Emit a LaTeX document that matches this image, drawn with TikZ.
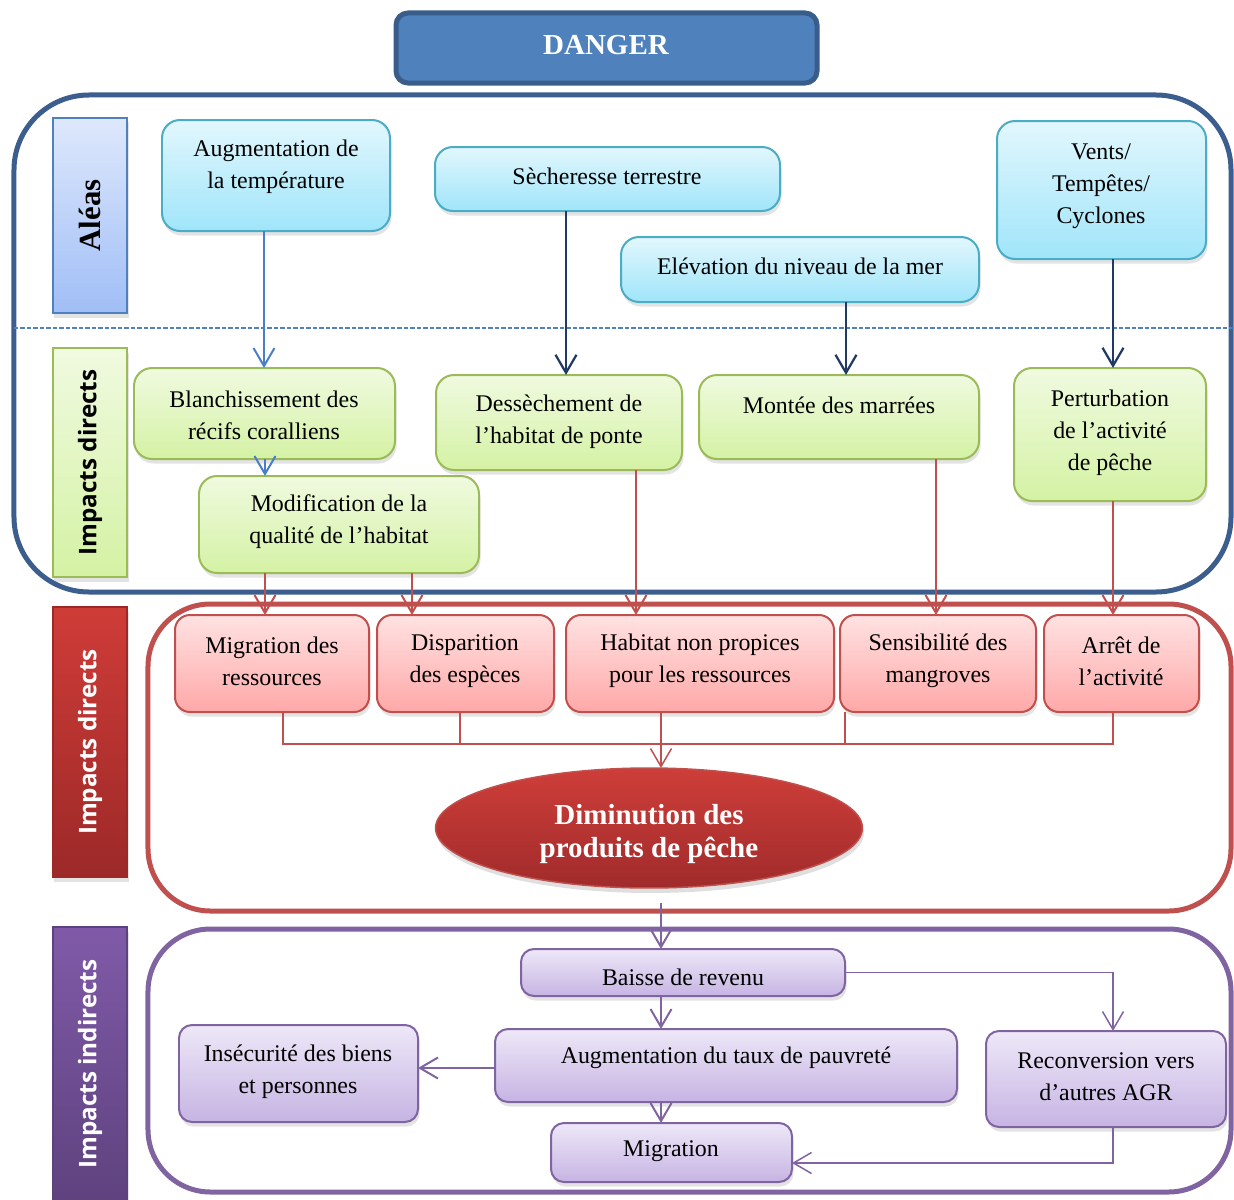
\documentclass[tikz,border=0pt]{standalone}
\usepackage{fontspec}
\setmainfont{Liberation Serif}
\newfontfamily\labfont{Open Sans}
\usetikzlibrary{arrows.meta,shadows,shapes.geometric}

\definecolor{dangerFill}{RGB}{79,129,189}
\definecolor{dangerLine}{RGB}{56,93,138}
\definecolor{blueFrame}{RGB}{60,94,142}
\definecolor{dashBlue}{RGB}{79,129,189}
\definecolor{aleaTop}{RGB}{226,247,253}
\definecolor{aleaBot}{RGB}{160,229,250}
\definecolor{aleaLine}{RGB}{75,172,198}
\definecolor{aleaLabTop}{RGB}{222,232,252}
\definecolor{aleaLabBot}{RGB}{160,190,246}
\definecolor{aleaLabLine}{RGB}{79,129,189}
\definecolor{grTop}{RGB}{240,250,224}
\definecolor{grBot}{RGB}{212,242,164}
\definecolor{grLine}{RGB}{155,187,89}
\definecolor{redLabTop}{RGB}{207,60,56}
\definecolor{redLabBot}{RGB}{156,41,40}
\definecolor{redLine}{RGB}{192,80,77}
\definecolor{rdTop}{RGB}{255,226,226}
\definecolor{rdBot}{RGB}{255,168,168}
\definecolor{ellTop}{RGB}{206,62,57}
\definecolor{ellBot}{RGB}{160,43,43}
\definecolor{purLabTop}{RGB}{128,90,168}
\definecolor{purLabBot}{RGB}{94,66,126}
\definecolor{purLine}{RGB}{128,100,162}
\definecolor{puTop}{RGB}{238,232,248}
\definecolor{puBot}{RGB}{198,180,227}
\definecolor{lightArrow}{RGB}{74,126,200}
\definecolor{navyArrow}{RGB}{33,58,100}

% box node given by its corners (x1,y1)-(x2,y2) in picture units
\newcommand{\cbox}[6]{%
  \pgfmathsetmacro{\cbw}{(#5-#3)*0.02}%
  \pgfmathsetmacro{\cbh}{(#6-#4)*0.02}%
  \node[#2, minimum width=\cbw cm, minimum height=\cbh cm] (#1) at ({(#3+#5)/2},{(#4+#6)/2}) {};%
}

\begin{document}
\begin{tikzpicture}[x=0.02cm,y=-0.02cm,
  every node/.style={inner sep=0pt, outer sep=0pt},
  softshadow/.style={drop shadow={shadow xshift=0.03cm, shadow yshift=-0.09cm, opacity=0.22}},
  frameBox/.style={draw, line width=0.1cm, rounded corners=1.5cm},
  labBox/.style={rectangle, line width=0.04cm, softshadow},
  aleaNode/.style={draw=aleaLine, line width=0.04cm, rounded corners=0.36cm, top color=aleaTop, bottom color=aleaBot, softshadow},
  greenNode/.style={draw=grLine, line width=0.04cm, rounded corners=0.36cm, top color=grTop, bottom color=grBot, softshadow},
  redNode/.style={draw=redLine, line width=0.04cm, rounded corners=0.3cm, top color=rdTop, bottom color=rdBot, softshadow},
  purNode/.style={draw=purLine, line width=0.04cm, rounded corners=0.26cm, top color=puTop, bottom color=puBot, softshadow},
  txt/.style={align=center, font=\fontsize{13.6}{18.1}\selectfont},
  labtxt/.style={rotate=90, font=\labfont\bfseries\fontsize{13.8}{14}\selectfont},
  tip/.style={-{Straight Barb[length=0.36cm,width=0.42cm]}},
  arrLB/.style={tip, draw=lightArrow, line width=0.04cm},
  arrNV/.style={tip, draw=navyArrow, line width=0.045cm},
  arrR/.style={tip, draw=redLine, line width=0.04cm},
  arrP/.style={tip, draw=purLine, line width=0.04cm},
  busR/.style={draw=redLine, line width=0.03cm},
]
\useasboundingbox (0,0) rectangle (1234,1200);

% ---- x positions of the vertical connectors ----
\coordinate (xa) at (264,0);
\coordinate (xb) at (566,0);
\coordinate (xc) at (846,0);
\coordinate (xd) at (1113,0);
\coordinate (xe) at (265,0);
\coordinate (xf) at (412,0);
\coordinate (xg) at (636,0);
\coordinate (xh) at (936,0);
\coordinate (m1) at (283,0);
\coordinate (m2) at (460,0);
\coordinate (m3) at (661,0);
\coordinate (m4) at (845,0);
\coordinate (bus) at (0,744);
\coordinate (back) at (0,1163);
\coordinate (pstart) at (661,903);

% ---- frames ----
\cbox{frA}{frameBox, draw=blueFrame}{14}{95}{1231}{592}
\cbox{frB}{frameBox, draw=redLine, rounded corners=1.25cm}{148}{604}{1231}{911}
\cbox{frC}{frameBox, draw=purLine, rounded corners=1.25cm}{148}{929}{1231}{1192}
\draw[dashBlue, line width=0.03cm, dash pattern=on 0.09cm off 0.04cm] (frA.west |- 0,328) -- (1234,328);

% ---- title ----
\cbox{danger}{draw=dangerLine, line width=0.1cm, fill=dangerFill, rounded corners=0.24cm}{396}{13}{817}{83}
\node[text=white, font=\bfseries\fontsize{16.5}{18}\selectfont] (danger-t) at (606,45) {DANGER};

% ---- row labels ----
\cbox{labA}{labBox, draw=aleaLabLine, top color=aleaLabTop, bottom color=aleaLabBot}{53}{118}{127}{313}
\node[rotate=90, font=\bfseries\fontsize{17.5}{18}\selectfont] (labA-t) at (labA.center) {Aléas};
\cbox{labB}{labBox, draw=grLine, top color=grTop, bottom color=grBot}{53}{348}{127}{577}
\node[labtxt] (labB-t) at (labB.center) {Impacts directs};
\cbox{labC}{labBox, draw=redLabBot, top color=redLabTop, bottom color=redLabBot}{53}{607}{127}{877}
\node[labtxt, text=white] (labC-t) at (labC.center) {Impacts directs};
\cbox{labD}{labBox, draw=purLabBot, top color=purLabTop, bottom color=purLabBot}{53}{927}{127}{1203}
\node[labtxt, text=white] (labD-t) at (90,1064) {Impacts indirects};

% ---- hazards ----
\cbox{aug}{aleaNode}{162}{120}{390}{231}
\node[txt] (aug-t) at (276,167) {Augmentation de\\la température};
\cbox{sech}{aleaNode}{435}{147}{780}{211}
\node[txt] (sech-t) at (607,176) {Sècheresse terrestre};
\cbox{elev}{aleaNode}{621}{237}{979}{302}
\node[txt] (elev-t) at (800,266) {Elévation du niveau de la mer};
\cbox{vents}{aleaNode}{997}{121}{1206}{259}
\node[txt] (vents-t) at (1101,186) {Vents/\\Tempêtes/\\Cyclones};

% ---- direct impacts (habitat) ----
\cbox{blanch}{greenNode}{134}{368}{395}{459}
\node[txt] (blanch-t) at (264,415) {Blanchissement des\\récifs coralliens};
\cbox{modif}{greenNode}{199}{476}{479}{573}
\node[txt] (modif-t) at (339,522) {Modification de la\\qualité de l’habitat};
\cbox{dess}{greenNode}{436}{375}{682}{470}
\node[txt] (dess-t) at (559,422) {Dessèchement de\\l’habitat de ponte};
\cbox{montee}{greenNode}{699}{375}{979}{459}
\node[txt] (montee-t) at (839,405) {Montée des marrées};
\cbox{pert}{greenNode}{1014}{368}{1206}{501}
\node[txt] (pert-t) at (1110,433) {Perturbation\\de l’activité\\de pêche};

% ---- direct impacts (resources) ----
\cbox{mig}{redNode}{175}{615}{369}{712}
\node[txt] (mig-t) at (272,661) {Migration des\\ressources};
\cbox{disp}{redNode}{377}{615}{554}{712}
\node[txt] (disp-t) at (465,661) {Disparition\\des espèces};
\cbox{hab}{redNode}{566}{615}{834}{712}
\node[txt] (hab-t) at (700,661) {Habitat non propices\\pour les ressources};
\cbox{sens}{redNode}{840}{615}{1036}{712}
\node[txt] (sens-t) at (938,661) {Sensibilité des\\mangroves};
\cbox{arret}{redNode}{1044}{615}{1199}{712}
\node[txt] (arret-t) at (1121,661) {Arrêt de\\l’activité};

% ---- central outcome ----
\node[ellipse, draw=redLine, line width=0.03cm, top color=ellTop, bottom color=ellBot,
      minimum width=8.54cm, minimum height=2.4cm,
      drop shadow={shadow xshift=0.03cm, shadow yshift=-0.1cm, opacity=0.25}] (ell) at (649,828) {};
\node[align=center, text=white, font=\bfseries\fontsize{16.5}{18.7}\selectfont] (ell-t) at (649,834) {Diminution des\\produits de pêche};

% ---- indirect impacts ----
\cbox{baisse}{purNode}{521}{949}{845}{996}
\node[txt] (baisse-t) at (683,977) {Baisse de revenu};
\cbox{augm}{purNode}{495}{1029}{957}{1102}
\node[txt] (augm-t) at (726,1058) {Augmentation du taux de pauvreté};
\cbox{insec}{purNode}{179}{1025}{418}{1122}
\node[txt] (insec-t) at (298,1072) {Insécurité des biens\\et personnes};
\cbox{recon}{purNode}{986}{1031}{1226}{1127}
\node[txt] (recon-t) at (1106,1077) {Reconversion vers\\d’autres AGR};
\cbox{migr}{purNode}{551}{1123}{792}{1182}
\node[txt] (migr-t) at (671,1151) {Migration};

% ---- connectors: hazards to direct impacts ----
\draw[arrLB] (aug.south -| xa) -- (blanch.north -| xa);
\draw[arrLB] (blanch.south -| xe) -- (modif.north -| xe);
\draw[arrNV] (sech.south -| xb) -- (dess.north -| xb);
\draw[arrNV] (elev.south -| xc) -- (montee.north -| xc);
\draw[arrNV] (vents.south -| xd) -- (pert.north -| xd);

% ---- connectors: habitat to resources ----
\draw[arrR] (modif.south -| xe) -- (mig.north -| xe);
\draw[arrR] (modif.south -| xf) -- (disp.north -| xf);
\draw[arrR] (dess.south -| xg) -- (hab.north -| xg);
\draw[arrR] (montee.south -| xh) -- (sens.north -| xh);
\draw[arrR] (pert.south -| xd) -- (arret.north -| xd);

% ---- collector bus into the outcome ----
\draw[busR] (mig.south -| m1) -- (m1 |- bus) -- (xd |- bus) -- (arret.south -| xd);
\draw[busR] (disp.south -| m2) -- (m2 |- bus);
\draw[busR] (sens.south -| m4) -- (m4 |- bus);
\draw[arrR, line width=0.03cm] (hab.south -| m3) -- (ell.north -| m3);

% ---- connectors: indirect impacts ----
\draw[arrP] (pstart) -- (baisse.north -| pstart);
\draw[arrP] (baisse.south -| m3) -- (augm.north -| m3);
\draw[arrP] (augm.south -| m3) -- (migr.north -| m3);
\draw[arrP] (augm.west |- 0,1068) -- (insec.east |- 0,1068);
\draw[arrP, line width=0.03cm] (baisse.east) -| (recon.north -| xd);
\draw[arrP, line width=0.03cm] (recon.south -| xd) |- (migr.east |- back);

\end{tikzpicture}
\end{document}
